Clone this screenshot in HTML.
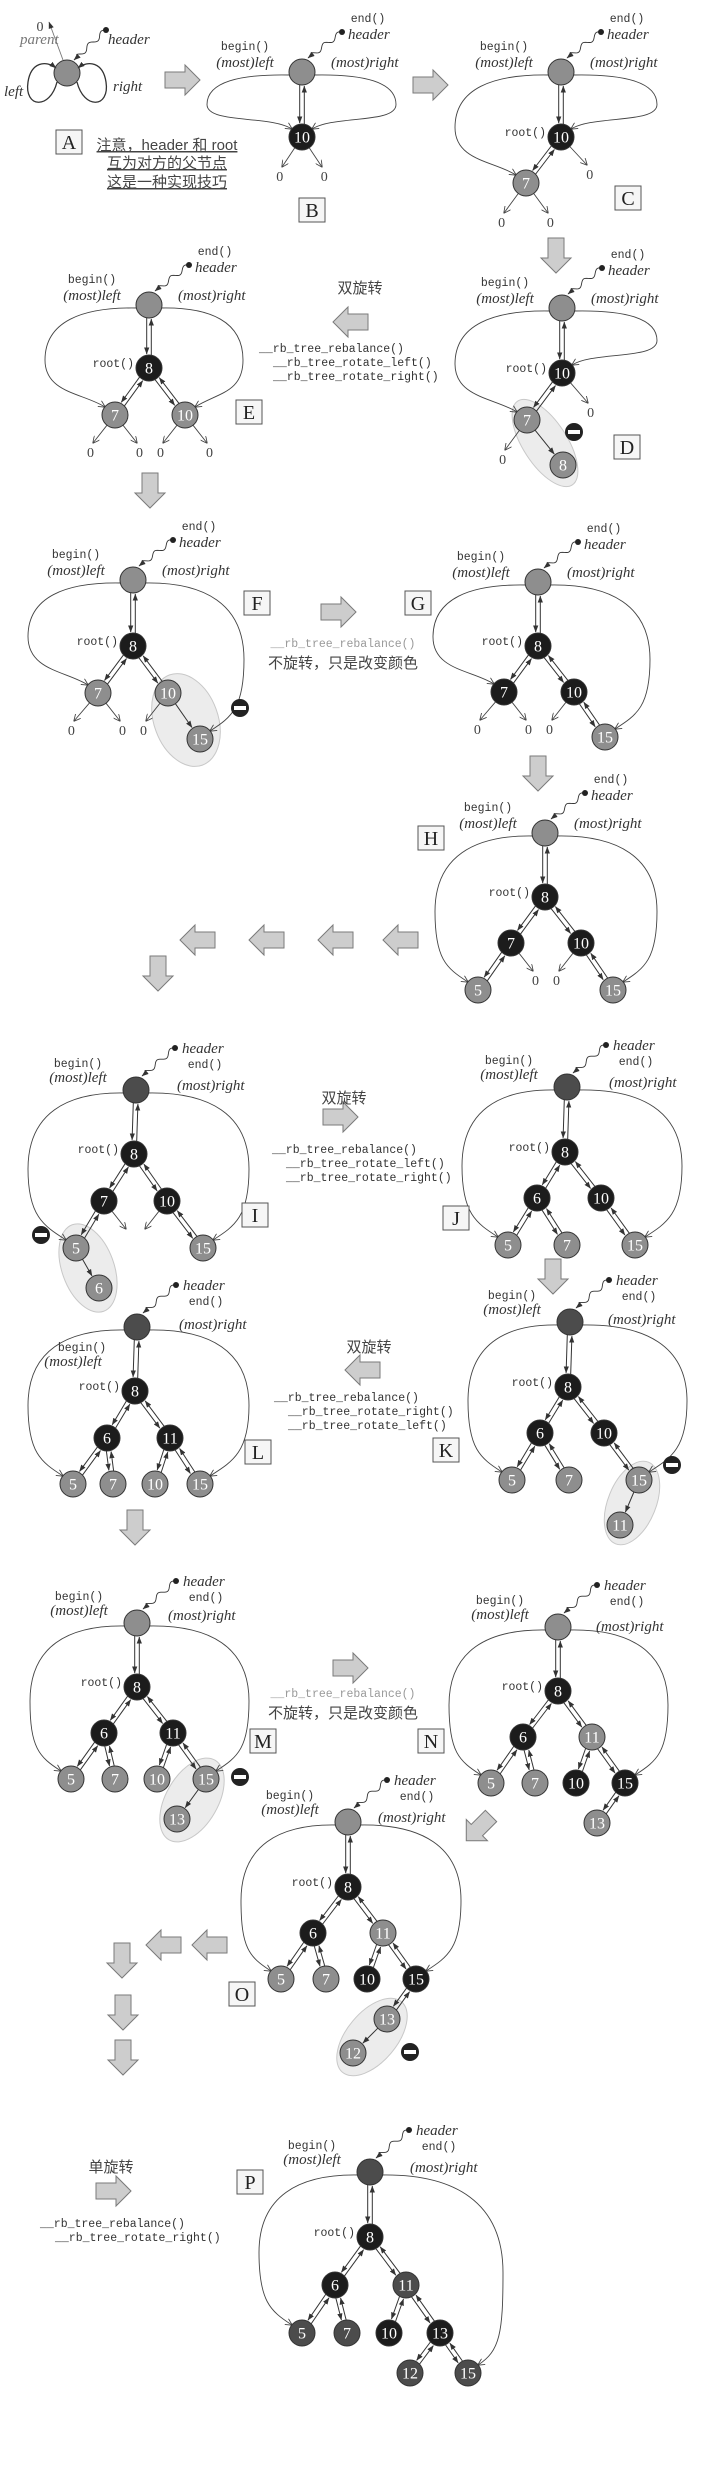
<!DOCTYPE html>
<html><head><meta charset="utf-8"><style>
html,body{margin:0;padding:0;background:#fff;}
svg{display:block;}
.nl{font-family:"Liberation Serif",serif;font-size:16px;fill:#fff;text-anchor:middle;}
.it{font-family:"Liberation Serif",serif;font-style:italic;font-size:15px;fill:#333;}
.mo{font-family:"Liberation Mono",monospace;font-size:11.5px;fill:#333;}
.zr{font-family:"Liberation Serif",serif;font-size:14px;fill:#444;text-anchor:middle;}
.cj{font-family:"Liberation Sans","Noto Sans CJK SC",sans-serif;font-size:15px;fill:#444;}
.bx{font-family:"Liberation Serif",serif;font-size:20px;fill:#222;text-anchor:middle;}
</style></head><body>
<svg id="s" width="720" height="2470" viewBox="0 0 720 2470" xmlns="http://www.w3.org/2000/svg">
<defs>
<marker id="ah" viewBox="0 0 8 6" refX="7.5" refY="3" markerWidth="7" markerHeight="5.5" markerUnits="userSpaceOnUse" orient="auto"><path d="M0,0 L8,3 L0,6 z" fill="#333"/></marker>
<marker id="av" viewBox="0 0 8 8" refX="7.5" refY="4" markerWidth="7" markerHeight="7" markerUnits="userSpaceOnUse" orient="auto"><path d="M0,0 L8,4 L0,8" fill="none" stroke="#444" stroke-width="1"/></marker>
</defs>
<g id="g"></g>
<!-- Panel A -->
<path d="M57,82 C50,110 24,108 28,82 C31,62 46,60 56,68" fill="none" stroke="#333" stroke-width="1.3" marker-end="url(#ah)"/>
<path d="M77,82 C84,110 110,108 106,82 C103,62 88,60 78,68" fill="none" stroke="#333" stroke-width="1.3" marker-end="url(#ah)"/>
<line x1="63" y1="60" x2="49" y2="22" stroke="#777" stroke-width="0.9" marker-end="url(#ah)"/>
<text class="zr" x="40" y="31">0</text>
<text class="it" x="20" y="44" style="fill:#777">parent</text>
<text class="it" x="108" y="44">header</text>
<text class="it" x="4" y="96">left</text>
<text class="it" x="113" y="91">right</text>
<rect x="56" y="130" width="26" height="24" fill="#f6f6f6" stroke="#555"/>
<text class="bx" x="69" y="149">A</text>
<text class="cj" x="167" y="150" text-anchor="middle" text-decoration="underline">注意，header 和 root</text>
<text class="cj" x="167" y="168" text-anchor="middle" text-decoration="underline">互为对方的父节点</text>
<text class="cj" x="167" y="187" text-anchor="middle" text-decoration="underline">这是一种实现技巧</text>
</svg>
<script>
var G=document.getElementById('g'),S=[];
var COL={b:'#1c1c1c',g:'#8e8e8e',d:'#4c4c4c'};
function ln(x1,y1,x2,y2,m,w,c){S.push('<line x1="'+x1.toFixed(1)+'" y1="'+y1.toFixed(1)+'" x2="'+x2.toFixed(1)+'" y2="'+y2.toFixed(1)+'" stroke="'+(c||'#333')+'" stroke-width="'+(w||0.9)+'"'+(m?' marker-end="url(#'+m+')"':'')+'/>');}
function tx(cls,x,y,t,anc,st){S.push('<text class="'+cls+'" x="'+x+'" y="'+y+'"'+(anc?' text-anchor="'+anc+'"':'')+(st?' style="'+st+'"':'')+'>'+t+'</text>');}
function node(x,y,l,c){S.push('<circle cx="'+x+'" cy="'+y+'" r="13" fill="'+COL[c]+'" stroke="#333" stroke-width="1"/>');if(l)tx('nl',x,y+5.5,l);}
function edge(a,b,single){var dx=b[0]-a[0],dy=b[1]-a[1],L=Math.hypot(dx,dy),ux=dx/L,uy=dy/L,px=-uy,py=ux,r=13,o=single?0:2.3;
 ln(a[0]+ux*r+px*o,a[1]+uy*r+py*o,b[0]-ux*(r+1)+px*o,b[1]-uy*(r+1)+py*o,'ah',1);
 if(!single)ln(b[0]-ux*r-px*o,b[1]-uy*r-py*o,a[0]+ux*(r+1)-px*o,a[1]+uy*(r+1)-py*o,'ah',1);}
function squig(x0,y0,x1,y1){var p=[],dx=x1-x0,dy=y1-y0,L=Math.hypot(dx,dy),px=-dy/L,py=dx/L;
 for(var i=0;i<=30;i++){var t=i/30,a=Math.sin(t*Math.PI*5)*2.5*(t<0.9?1:0);p.push((x0+dx*t+px*a).toFixed(1)+','+(y0+dy*t+py*a).toFixed(1));}
 S.push('<polyline points="'+p.join(' ')+'" fill="none" stroke="#333" stroke-width="0.9" marker-end="url(#ah)"/>');
 S.push('<circle cx="'+x0+'" cy="'+y0+'" r="3" fill="#222"/>');}
function box(x,y,t){S.push('<rect x="'+(x-13)+'" y="'+(y-12)+'" width="26" height="24" fill="#f6f6f6" stroke="#555"/>');tx('bx',x,y+7,t);}
function minus(x,y){S.push('<circle cx="'+x+'" cy="'+y+'" r="9" fill="#222"/><rect x="'+(x-6)+'" y="'+(y-2)+'" width="12" height="4" fill="#fff"/>');}
function blob(x,y,rx,ry,rot){S.push('<ellipse cx="'+x+'" cy="'+y+'" rx="'+rx+'" ry="'+ry+'" transform="rotate('+rot+' '+x+' '+y+')" fill="#ececec" stroke="#c8c8c8" stroke-width="1"/>');}
function barrow(x,y,rot){S.push('<polygon points="-17,-8 3,-8 3,-15 18,0 3,15 3,8 -17,8" transform="translate('+x+' '+y+') rotate('+rot+')" fill="#cdcdcd" stroke="#7a7a7a" stroke-width="1"/>');}
function loop(h,n,xB,side){var s=side,sx=h[0]+s*12,sy=h[1]+3,mid=(h[1]+n[1])/2,ex=n[0]+s*10,ey=n[1]-8;
 var d='M'+sx+','+sy+' C'+(sx+(xB-sx)*0.6)+','+(h[1]+2)+' '+xB+','+(h[1]+(mid-h[1])*0.3)+' '+xB+','+mid+' C'+xB+','+(mid+(n[1]-mid)*0.6)+' '+(n[0]+s*32)+','+(n[1]-22)+' '+ex+','+ey;
 S.push('<path d="'+d+'" fill="none" stroke="#444" stroke-width="0.9" marker-end="url(#av)"/>');}
function panel(o){var n=o.n,h=n[0];
 if(o.blob)blob.apply(null,o.blob);
 loop(h,n[o.L],o.xL,-1);loop(h,n[o.R],o.xR,1);
 o.e.forEach(function(e){edge(n[e[0]],n[e[1]],e[2]);});
 (o.nu||[]).forEach(function(q){var a=n[q[0]],L=Math.hypot(q[1],q[2]),ux=q[1]/L,uy=q[2]/L;ln(a[0]+ux*13,a[1]+uy*13,a[0]+q[1],a[1]+q[2],'av',0.9,'#444');if(q[3]!=='')tx('zr',a[0]+q[1]+ux*4,a[1]+q[2]+14,'0');});
 n.forEach(function(a){node(a[0],a[1],a[2],a[3]);});
 var hx=h[0],hy=h[1];
 if(o.st==1){squig(hx+40,hy-40,hx+6,hy-14);tx('mo',hx+66,hy-50,'end()','middle');tx('it',hx+46,hy-33,'header');
  tx('mo',hx-57,hy-22,'begin()','middle');tx('it',hx-57,hy-5,'(most)left','middle');tx('it',hx+29,hy-5,'(most)right');}
 else{squig(hx+39,hy-42,hx+6,hy-14);tx('it',hx+46,hy-37,'header');tx('mo',hx+69,hy-22,'end()','middle');
  var by=o.st==3?hy+24:hy-23;tx('mo',hx-(o.st==3?55:58),by,'begin()','middle');tx('it',hx-(o.st==3?64:58),by+15,'(most)left','middle');tx('it',hx+o.rx,hy+(o.ry||0),'(most)right');}
 if(o.root!==false)tx('mo',n[1][0]-15,n[1][1]-1,'root()','end');
 if(o.minus)minus.apply(null,o.minus);
 box.apply(null,o.box);}
// B
panel({n:[[302,72,'','g'],[302,137,'10','b']],e:[[0,1]],nu:[[1,-20,30],[1,20,30]],L:1,R:1,xL:207,xR:396,box:[312,210,'B'],st:1,root:false});
// C
panel({n:[[561,72,'','g'],[561,137,'10','b'],[526,183,'7','g']],e:[[0,1],[1,2]],nu:[[1,26,28],[2,-22,30],[2,22,30]],L:2,R:1,xL:455,xR:657,box:[628,198,'C'],st:1});
// D
panel({n:[[562,308,'','g'],[562,373,'10','b'],[527,420,'7','g'],[563,465,'8','g']],e:[[0,1],[1,2],[2,3,1]],nu:[[1,26,30],[2,-22,30]],L:2,R:1,xL:455,xR:657,box:[627,447,'D'],st:1,blob:[545,443,22,50,-33],minus:[574,432]});
// E
panel({n:[[149,305,'','g'],[149,368,'8','b'],[115,415,'7','g'],[185,415,'10','g']],e:[[0,1],[1,2],[1,3]],nu:[[2,-22,28],[2,22,28],[3,-22,28],[3,22,28]],L:2,R:3,xL:45,xR:243,box:[249,412,'E'],st:1});
// F
panel({n:[[133,580,'','g'],[133,646,'8','b'],[98,693,'7','g'],[168,693,'10','g'],[200,739,'15','g']],e:[[0,1],[1,2],[1,3],[3,4,1]],nu:[[2,-24,28],[2,22,28],[3,-22,28]],L:2,R:4,xL:28,xR:244,box:[257,603,'F'],st:1,blob:[186,720,32,48,-20],minus:[240,708]});
// G
panel({n:[[538,582,'','g'],[538,646,'8','b'],[504,692,'7','b'],[574,692,'10','b'],[605,737,'15','g']],e:[[0,1],[1,2],[1,3],[3,4]],nu:[[2,-24,28],[2,22,28],[3,-22,28]],L:2,R:4,xL:433,xR:650,box:[418,603,'G'],st:1});
// H
panel({n:[[545,833,'','g'],[545,897,'8','b'],[511,943,'7','b'],[581,943,'10','b'],[478,990,'5','g'],[613,990,'15','g']],e:[[0,1],[1,2],[1,3],[2,4],[3,5]],nu:[[2,22,28],[3,-22,28]],L:4,R:5,xL:435,xR:657,box:[431,838,'H'],st:1});
// I
panel({n:[[136,1090,'','d'],[134,1154,'8','b'],[104,1201,'7','b'],[167,1201,'10','b'],[76,1248,'5','g'],[99,1288,'6','g'],[203,1248,'15','g']],e:[[0,1],[1,2],[1,3],[2,4],[3,6],[4,5,1]],nu:[[2,22,28,''],[3,-22,28,'']],L:4,R:6,xL:28,xR:249,box:[255,1215,'I'],st:2,rx:41,ry:0,blob:[88,1268,26,46,-20],minus:[41,1235]});
// J
panel({n:[[567,1087,'','d'],[565,1152,'8','b'],[537,1198,'6','b'],[601,1198,'10','b'],[508,1245,'5','g'],[567,1245,'7','g'],[635,1245,'15','g']],e:[[0,1],[1,2],[1,3],[2,4],[2,5],[3,6]],L:4,R:6,xL:462,xR:682,box:[456,1218,'J'],st:2,rx:42,ry:0});
// K
panel({n:[[570,1322,'','d'],[568,1387,'8','b'],[540,1433,'6','b'],[604,1433,'10','b'],[512,1480,'5','g'],[569,1480,'7','g'],[639,1480,'15','g'],[620,1525,'11','g']],e:[[0,1],[1,2],[1,3],[2,4],[2,5],[3,6],[6,7,1]],L:4,R:6,xL:468,xR:687,box:[446,1450,'K'],st:2,rx:38,ry:2,blob:[632,1503,24,44,22],minus:[672,1465]});
// L
panel({n:[[137,1327,'','d'],[135,1391,'8','b'],[107,1438,'6','b'],[170,1438,'11','b'],[73,1484,'5','g'],[113,1484,'7','g'],[155,1484,'10','g'],[200,1484,'15','g']],e:[[0,1],[1,2],[1,3],[2,4],[2,5],[3,6],[3,7]],L:4,R:7,xL:28,xR:249,box:[258,1452,'L'],st:3,rx:42,ry:2});
// M
panel({n:[[137,1623,'','g'],[137,1687,'8','b'],[104,1733,'6','b'],[173,1733,'11','b'],[71,1779,'5','g'],[115,1779,'7','g'],[157,1779,'10','g'],[206,1779,'15','g'],[177,1819,'13','g']],e:[[0,1],[1,2],[1,3],[2,4],[2,5],[3,6],[3,7],[7,8,1]],L:4,R:7,xL:30,xR:249,box:[263,1741,'M'],st:2,rx:31,ry:-3,blob:[192,1800,26,46,30],minus:[240,1777]});
// N
panel({n:[[558,1627,'','g'],[558,1691,'8','b'],[523,1737,'6','b'],[592,1737,'11','g'],[491,1783,'5','g'],[535,1783,'7','g'],[576,1783,'10','b'],[625,1783,'15','b'],[597,1823,'13','g']],e:[[0,1],[1,2],[1,3],[2,4],[2,5],[3,6],[3,7],[7,8]],L:4,R:7,xL:449,xR:668,box:[431,1741,'N'],st:2,rx:38,ry:4});
// O
panel({n:[[348,1822,'','g'],[348,1887,'8','b'],[313,1933,'6','b'],[383,1933,'11','g'],[281,1979,'5','g'],[326,1979,'7','g'],[367,1979,'10','b'],[416,1979,'15','b'],[387,2019,'13','g'],[353,2053,'12','g']],e:[[0,1],[1,2],[1,3],[2,4],[2,5],[3,6],[3,7],[7,8],[8,9,1]],L:4,R:7,xL:241,xR:461,box:[242,1994,'O'],st:2,rx:30,ry:0,blob:[372,2037,25,46,40],minus:[410,2052]});
// P
panel({n:[[370,2172,'','d'],[370,2237,'8','b'],[335,2285,'6','b'],[406,2285,'11','d'],[302,2333,'5','d'],[347,2333,'7','d'],[389,2333,'10','b'],[440,2333,'13','b'],[410,2373,'12','d'],[468,2373,'15','d']],e:[[0,1],[1,2],[1,3],[2,4],[2,5],[3,6],[3,7],[7,8],[7,9]],L:4,R:9,xL:259,xR:503,box:[250,2182,'P'],st:2,rx:40,ry:0});
// A header node + squiggle
squig(106,30,74,60);node(67,73,'','g');
// block arrows
[[182,80,0],[430,85,0],[338,612,0],[340,1117,0],[350,1668,0],[113,2191,0],
 [351,322,180],[363,1370,180],[401,940,180],[336,940,180],[267,940,180],[198,940,180],[210,1945,180],[164,1945,180],
 [556,255,90],[150,490,90],[538,773,90],[158,973,90],[553,1276,90],[135,1527,90],[122,1960,90],[123,2012,90],[123,2057,90],[479,1828,135]].forEach(function(a){barrow(a[0],a[1],a[2]);});
// texts
tx('cj',360,293,'双旋转','middle');
tx('mo',259,352,'__rb_tree_rebalance()');tx('mo',273,366,'__rb_tree_rotate_left()');tx('mo',273,380,'__rb_tree_rotate_right()');
tx('cj',344,1103,'双旋转','middle');
tx('mo',272,1153,'__rb_tree_rebalance()');tx('mo',286,1167,'__rb_tree_rotate_left()');tx('mo',286,1181,'__rb_tree_rotate_right()');
tx('cj',369,1352,'双旋转','middle');
tx('mo',274,1401,'__rb_tree_rebalance()');tx('mo',288,1415,'__rb_tree_rotate_right()');tx('mo',288,1429,'__rb_tree_rotate_left()');
tx('mo',343,647,'__rb_tree_rebalance()','middle','fill:#999');tx('cj',343,668,'不旋转，只是改变颜色','middle');
tx('mo',343,1697,'__rb_tree_rebalance()','middle','fill:#999');tx('cj',343,1718,'不旋转，只是改变颜色','middle');
tx('cj',111,2172,'单旋转','middle');
tx('mo',40,2227,'__rb_tree_rebalance()');tx('mo',55,2241,'__rb_tree_rotate_right()');
G.innerHTML=S.join('');
</script>
</body></html>
